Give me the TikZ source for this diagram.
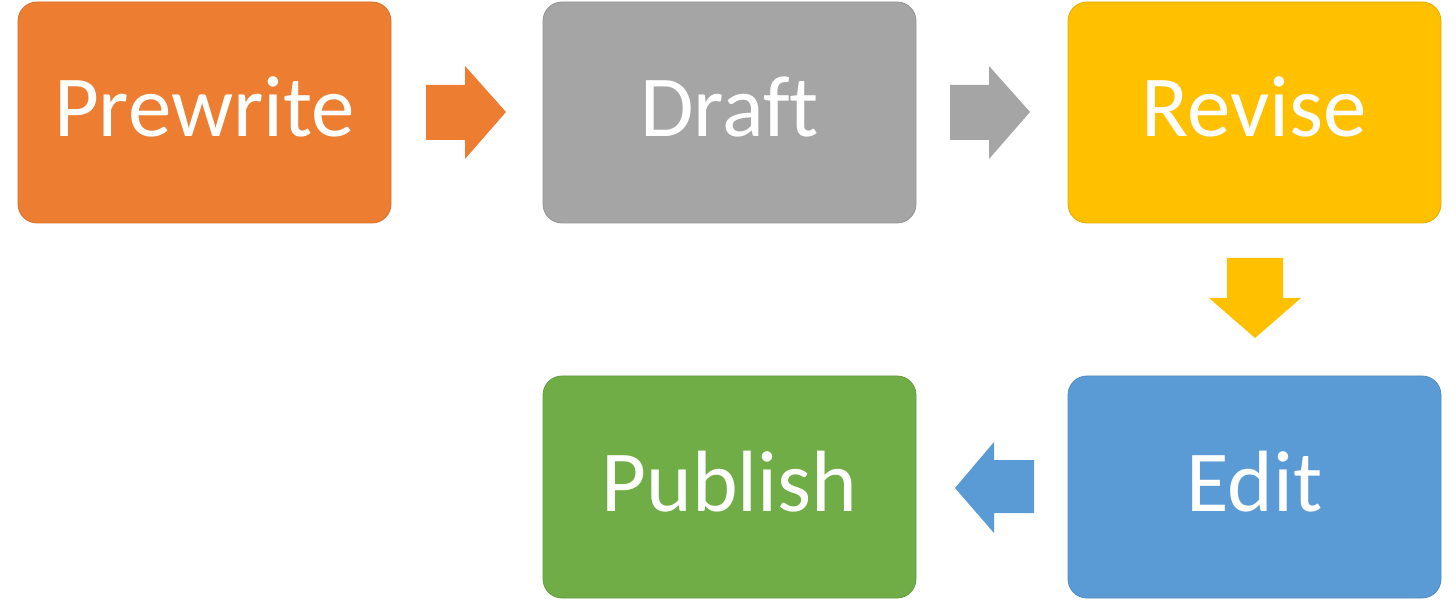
\documentclass[tikz,border=0pt]{standalone}
\usepackage{fontspec}
\setmainfont{Carlito}[Ligatures={NoCommon,NoRare}]
\definecolor{corange}{HTML}{ED7D31}
\definecolor{cgray}{HTML}{A5A5A5}
\definecolor{cyellow}{HTML}{FFC000}
\definecolor{cblue}{HTML}{5B9BD5}
\definecolor{cgreen}{HTML}{70AD47}
\begin{document}
\begin{tikzpicture}[x=1pt,y=-1pt,
  stepbox/.style={rounded corners=19pt, line width=0.8pt},
  steptext/.style={anchor=base, text=white, font=\fontsize{87}{100}\selectfont, inner sep=0pt}]
\useasboundingbox (0,0) rectangle (1456,601);
% boxes
\draw[stepbox, fill=corange, draw=corange!90!black] (18,2) rectangle (391,223);
\draw[stepbox, fill=cgray, draw=cgray!90!black] (543,2) rectangle (916,223);
\draw[stepbox, fill=cyellow, draw=cyellow!90!black] (1068,2) rectangle (1441,223);
\draw[stepbox, fill=cblue, draw=cblue!90!black] (1068,376) rectangle (1441,598);
\draw[stepbox, fill=cgreen, draw=cgreen!90!black] (543,376) rectangle (916,598);
% labels
\node[steptext] (prewrite) at (204.5,137) {Prewrite};
\node[steptext] (draft) at (729.5,137) {Draf\kern0pt t};
\node[steptext] (revise) at (1254.5,137) {Revise};
\node[steptext] (edit) at (1254.5,511) {Edit};
\node[steptext] (publish) at (729.5,511) {Publish};
% arrows
\fill[corange] (426,85) -- (465,85) -- (465,66) -- (506,112) -- (465,159) -- (465,140) -- (426,140) -- cycle;
\fill[cgray] (950,85) -- (989,85) -- (989,66) -- (1030,112) -- (989,159) -- (989,140) -- (950,140) -- cycle;
\fill[cyellow] (1227,258) -- (1283,258) -- (1283,298) -- (1301,298) -- (1255,338) -- (1209,298) -- (1227,298) -- cycle;
\fill[cblue] (1034,460) -- (994,460) -- (994,442) -- (955,488) -- (994,533) -- (994,513) -- (1034,513) -- cycle;
\end{tikzpicture}
\end{document}
